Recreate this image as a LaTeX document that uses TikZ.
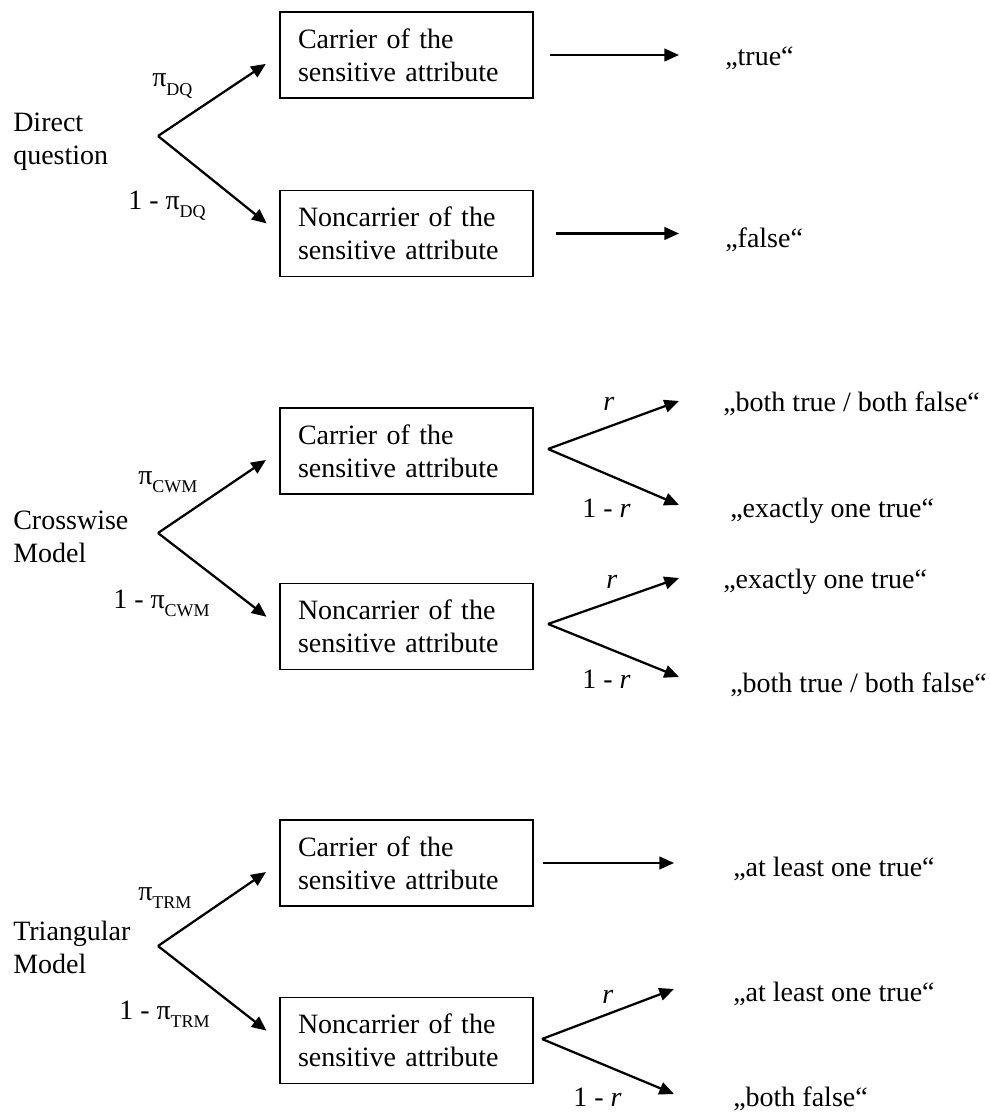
\documentclass[tikz,border=0pt]{standalone}
\usepackage{fontspec}
\setmainfont{Liberation Serif}
\usepackage{tikz}
\usetikzlibrary{arrows.meta}
\tikzset{
  txt/.style={inner sep=0pt, anchor=base west, font=\fontsize{21}{24.75}\selectfont},
  model/.style={inner sep=0pt, anchor=west, align=left, font=\fontsize{21}{24.75}\selectfont},
  attr/.style={draw, line width=1.3pt, rectangle, inner xsep=13.5pt, inner ysep=0pt,
    minimum width=189.75pt, minimum height=64.5pt, text width=162.75pt, align=left,
    font=\fontsize{21}{24.75}\selectfont},
  arr/.style={line width=1.7pt, -{Triangle[length=11pt,width=9.5pt]}}
}
\newcommand{\attrbox}[4]{\node[attr] (#1) at (#2,#3) {#4};}
\newcommand{\txtnode}[4]{\node[txt] (#1) at (#2,#3) {#4};}
\newcommand{\lowsub}[1]{\raisebox{-6pt}{\fontsize{13.5}{14}\selectfont #1}}

\begin{document}
\begin{tikzpicture}[x=0.75pt,y=-0.75pt]
        \useasboundingbox (0,0) rectangle (989,1113);
        % direct question
        \node[model] (dq) at (13,142) {Direct\\question};
        \attrbox{dqc}{406.5}{55}{Carrier of the\\sensitive attribute}
        \attrbox{dqn}{406.5}{233.5}{Noncarrier of the\\sensitive attribute}
        \coordinate (dqv) at (158,136);
        \draw[arr, shorten >=12pt] (dqv) -- (dqc.west);
        \draw[arr, shorten >=12pt] (dqv) -- (dqn.west);
        \txtnode{dqp}{152}{87}{π\lowsub{DQ}}
        \txtnode{dqq}{128}{209}{1 - π\lowsub{DQ}}
        \txtnode{dqt}{725}{65}{„true“}
        \txtnode{dqf}{725}{247}{„false“}
        \draw[arr, shorten <=12pt, shorten >=34.5pt] (dqc.east) -- (dqc.east -| dqt.west);
        \draw[arr, shorten <=16.5pt, shorten >=34.5pt] (dqn.east) -- (dqn.east -| dqf.west);
        % crosswise model
        \node[model] (cw) at (13,537) {Crosswise\\Model};
        \attrbox{cwc}{406.5}{451}{Carrier of the\\sensitive attribute}
        \attrbox{cwn}{406.5}{626.5}{Noncarrier of the\\sensitive attribute}
        \coordinate (cwv) at (158,533);
        \draw[arr, shorten >=12pt] (cwv) -- (cwc.west);
        \draw[arr, shorten >=12pt] (cwv) -- (cwn.west);
        \txtnode{cwp}{138}{484}{π\lowsub{CWM}}
        \txtnode{cwq}{113}{608}{1 - π\lowsub{CWM}}
        % crosswise model, carrier
        \coordinate (cwcv) at (548,449);
        \coordinate (cwct) at (679,401);
        \coordinate (cwcf) at (679,505);
        \draw[arr] (cwcv) -- (cwct);
        \draw[arr] (cwcv) -- (cwcf);
        \txtnode{cwcr}{603}{410}{\textit{r}}
        \txtnode{cwcs}{582}{517}{1 - \textit{r}}
        \txtnode{cwcb}{723}{411}{„both true / both false“}
        \txtnode{cwce}{730}{517}{„exactly one true“}
        % crosswise model, noncarrier
        \coordinate (cwnv) at (548,624);
        \coordinate (cwnt) at (679,578);
        \coordinate (cwnf) at (679,677);
        \draw[arr] (cwnv) -- (cwnt);
        \draw[arr] (cwnv) -- (cwnf);
        \txtnode{cwnr}{606}{588}{\textit{r}}
        \txtnode{cwns}{582}{688}{1 - \textit{r}}
        \txtnode{cwne}{723}{588}{„exactly one true“}
        \txtnode{cwnb}{730}{692}{„both true / both false“}
        % triangular model
        \node[model] (tr) at (13,947.5) {Triangular\\Model};
        \attrbox{trc}{406.5}{863}{Carrier of the\\sensitive attribute}
        \attrbox{trn}{406.5}{1040.5}{Noncarrier of the\\sensitive attribute}
        \coordinate (trv) at (158,946);
        \draw[arr, shorten >=12pt] (trv) -- (trc.west);
        \draw[arr, shorten >=12pt] (trv) -- (trn.west);
        \txtnode{trp}{138}{900}{π\lowsub{TRM}}
        \txtnode{trq}{119}{1019}{1 - π\lowsub{TRM}}
        \txtnode{trca}{733}{876}{„at least one true“}
        \draw[arr, shorten <=6.75pt, shorten >=44.25pt] (trc.east) -- (trc.east -| trca.west);
        % triangular model, noncarrier
        \coordinate (trnv) at (542,1039);
        \coordinate (trnt) at (674,989);
        \coordinate (trnf) at (674,1094);
        \draw[arr] (trnv) -- (trnt);
        \draw[arr] (trnv) -- (trnf);
        \txtnode{trnr}{602}{1003}{\textit{r}}
        \txtnode{trns}{573}{1106}{1 - \textit{r}}
        \txtnode{trna}{733}{1001}{„at least one true“}
        \txtnode{trnb}{733}{1106}{„both false“}
\end{tikzpicture}
\end{document}
